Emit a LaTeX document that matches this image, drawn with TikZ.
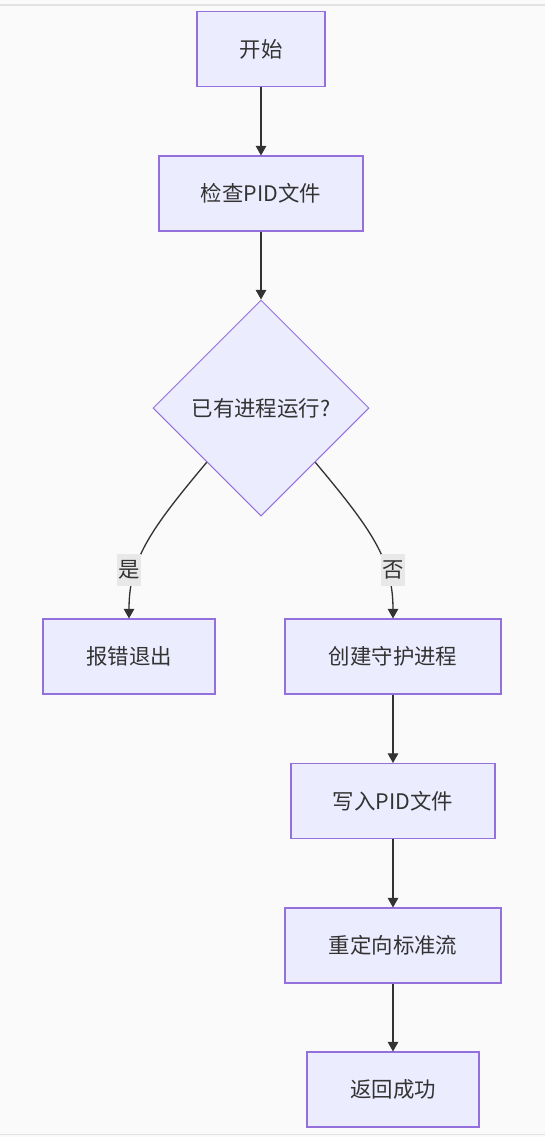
\documentclass[tikz,border=0pt]{standalone}
\usepackage{fontspec}
\setmainfont{Noto Sans CJK SC}
\usetikzlibrary{shapes.geometric, arrows.meta}
\definecolor{boxfill}{HTML}{ECECFF}
\definecolor{boxline}{HTML}{9370DB}
\definecolor{ink}{HTML}{333333}
\definecolor{labelbg}{HTML}{E8E8E8}
\tikzstyle{process} = [
    rectangle,
    minimum height=1.5cm,
    inner sep=0pt,
    fill=boxfill,
    draw=boxline,
    line width=0.6pt,
    text=ink,
    font=\fontsize{12.2}{14}\selectfont
]
\tikzstyle{decision} = [
    diamond,
    aspect=1,
    minimum width=4.32cm,
    minimum height=4.32cm,
    inner sep=0pt,
    fill=boxfill,
    draw=boxline,
    line width=0.6pt,
    text=ink,
    font=\fontsize{12.2}{14}\selectfont
]
\tikzstyle{edgelabel} = [
    fill=labelbg,
    text=ink,
    inner xsep=1pt,
    inner ysep=4pt,
    font=\fontsize{12.2}{14}\selectfont
]
\tikzstyle{arrow} = [
    draw=ink,
    line width=0.75pt,
    -{Triangle[length=5.5pt,width=6pt]}
]

\begin{document}
\begin{tikzpicture}[x=0.02cm, y=-0.02cm]

\fill[color={rgb,255:red,250;green,250;blue,250}] (0,0) rectangle (545,1137);
\useasboundingbox (0,0) rectangle (545,1137);
\draw[color={rgb,255:red,226;green,226;blue,226}, line width=0.8pt] (0,5) -- (545,5);
\draw[color={rgb,255:red,226;green,226;blue,226}, line width=0.8pt] (0,1134.5) -- (545,1134.5);

\node (start) [process, minimum width=2.56cm] at (261,49) {开始};

\node (check) [process, minimum width=4.08cm] at (261,193.5) {检查PID文件};

\node (running) [decision] at (261,408) {已有进程运行?};

\node (fail) [process, minimum width=3.44cm] at (129,656.5) {报错退出};

\node (daemon) [process, minimum width=4.32cm] at (393,656.5) {创建守护进程};

\node (writepid) [process, minimum width=4.08cm] at (393,801) {写入PID文件};

\node (redirect) [process, minimum width=4.32cm] at (393,945.5) {重定向标准流};

\node (success) [process, minimum width=3.44cm] at (393,1089.5) {返回成功};

\draw [arrow] (start) -- (check);
\draw [arrow] (check) -- (running);
\draw [arrow] (running.south west) .. controls (150,530) and (129,560) .. (fail.north);
\draw [arrow] (running.south east) .. controls (372,530) and (393,560) .. (daemon.north);
\draw [arrow] (daemon) -- (writepid);
\draw [arrow] (writepid) -- (redirect);
\draw [arrow] (redirect) -- (success);

\node (yes) [edgelabel] at (129,570) {是};
\node (no) [edgelabel] at (393,570) {否};

\end{tikzpicture}
\end{document}
